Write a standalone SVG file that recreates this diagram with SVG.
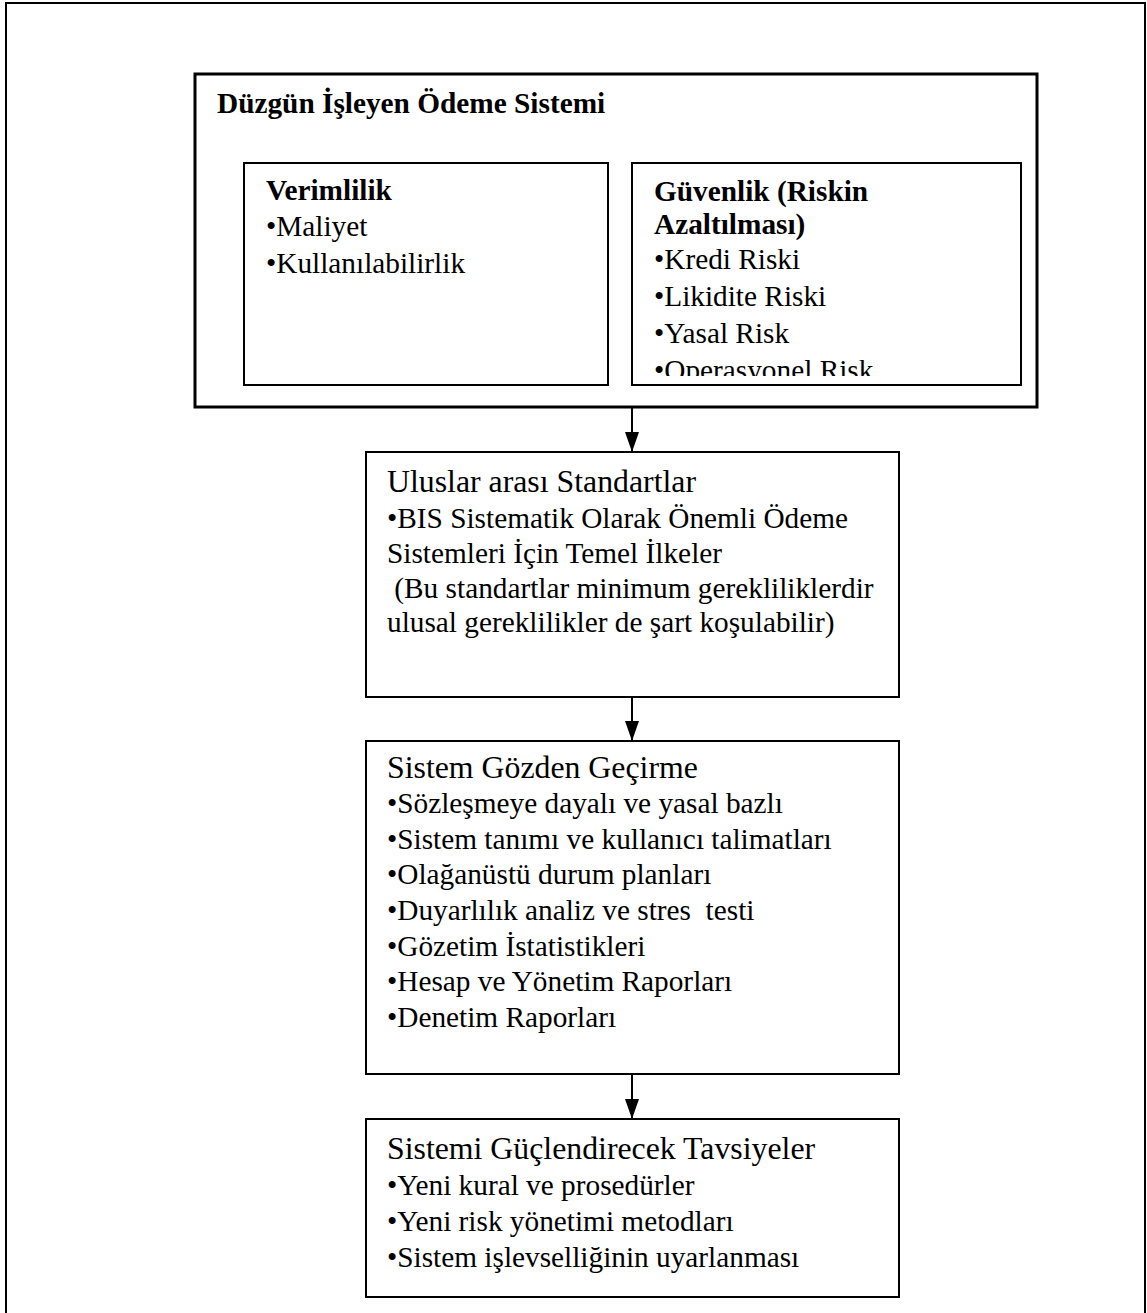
<svg xmlns="http://www.w3.org/2000/svg" width="1147" height="1313" viewBox="0 0 1147 1313">
<style>
  .t { font-family: "Liberation Serif", "Times New Roman", serif; font-size: 29.3px; fill: #000; white-space: pre; }
  .h { font-size: 31.8px; }
  .b { font-weight: bold; }
  .box { fill: #fff; stroke: #000; stroke-width: 2; }
  .main { fill: #fff; stroke: #000; stroke-width: 3; }
  .edge { stroke: #000; stroke-width: 2; fill: none; }
</style>
<defs>
  <marker id="arrow" markerWidth="20" markerHeight="14" refX="20" refY="7" orient="auto" markerUnits="userSpaceOnUse" viewBox="0 0 20 14">
    <path d="M0,0 L20,7 L0,14 Z" fill="#000"/>
  </marker>
  <clipPath id="clipG"><rect x="633" y="164" width="387" height="212"/></clipPath>
</defs>
<rect width="1147" height="1313" fill="#fff"/>
<path d="M6,1313 V3 H1145 V1313" fill="none" stroke="#000" stroke-width="2"/>

<g id="main-box">
  <rect class="main" x="195" y="74" width="842" height="333"/>
  <text class="t b" x="217" y="113">Düzgün İşleyen Ödeme Sistemi</text>
</g>

<g id="verimlilik">
  <rect class="box" x="244" y="163" width="364" height="222"/>
  <text class="t b" x="266" y="200">Verimlilik</text>
  <text class="t" x="266" y="236">•Maliyet</text>
  <text class="t" x="266" y="273">•Kullanılabilirlik</text>
</g>

<g id="guvenlik">
  <rect class="box" x="632" y="163" width="389" height="222"/>
  <g clip-path="url(#clipG)">
    <text class="t b" x="654" y="201">Güvenlik (Riskin</text>
    <text class="t b" x="654" y="234">Azaltılması)</text>
    <text class="t" x="654" y="269">•Kredi Riski</text>
    <text class="t" x="654" y="306">•Likidite Riski</text>
    <text class="t" x="654" y="343">•Yasal Risk</text>
    <text class="t" x="654" y="380">•Operasyonel Risk</text>
  </g>
</g>

<g id="standartlar">
  <rect class="box" x="366" y="452" width="533" height="245"/>
  <text class="t h" x="387" y="492">Uluslar arası Standartlar</text>
  <text class="t" x="387" y="528">•BIS Sistematik Olarak Önemli Ödeme</text>
  <text class="t" x="387" y="563">Sistemleri İçin Temel İlkeler</text>
  <text class="t" x="387" y="598"> (Bu standartlar minimum gerekliliklerdir</text>
  <text class="t" x="387" y="632">ulusal gereklilikler de şart koşulabilir)</text>
</g>

<g id="gozden-gecirme">
  <rect class="box" x="366" y="741" width="533" height="333"/>
  <text class="t h" x="387" y="778">Sistem Gözden Geçirme</text>
  <text class="t" x="387" y="813">•Sözleşmeye dayalı ve yasal bazlı</text>
  <text class="t" x="387" y="849">•Sistem tanımı ve kullanıcı talimatları</text>
  <text class="t" x="387" y="884">•Olağanüstü durum planları</text>
  <text class="t" x="387" y="920">•Duyarlılık analiz ve stres  testi</text>
  <text class="t" x="387" y="956">•Gözetim İstatistikleri</text>
  <text class="t" x="387" y="991">•Hesap ve Yönetim Raporları</text>
  <text class="t" x="387" y="1027">•Denetim Raporları</text>
</g>

<g id="tavsiyeler">
  <rect class="box" x="366" y="1119" width="533" height="178"/>
  <text class="t h" x="387" y="1159">Sistemi Güçlendirecek Tavsiyeler</text>
  <text class="t" x="387" y="1195">•Yeni kural ve prosedürler</text>
  <text class="t" x="387" y="1231">•Yeni risk yönetimi metodları</text>
  <text class="t" x="387" y="1267">•Sistem işlevselliğinin uyarlanması</text>
</g>

<g id="connectors">
  <line class="edge" x1="632" y1="408" x2="632" y2="452" marker-end="url(#arrow)"/>
  <line class="edge" x1="632" y1="698" x2="632" y2="741" marker-end="url(#arrow)"/>
  <line class="edge" x1="632" y1="1075" x2="632" y2="1119" marker-end="url(#arrow)"/>
</g>
</svg>
